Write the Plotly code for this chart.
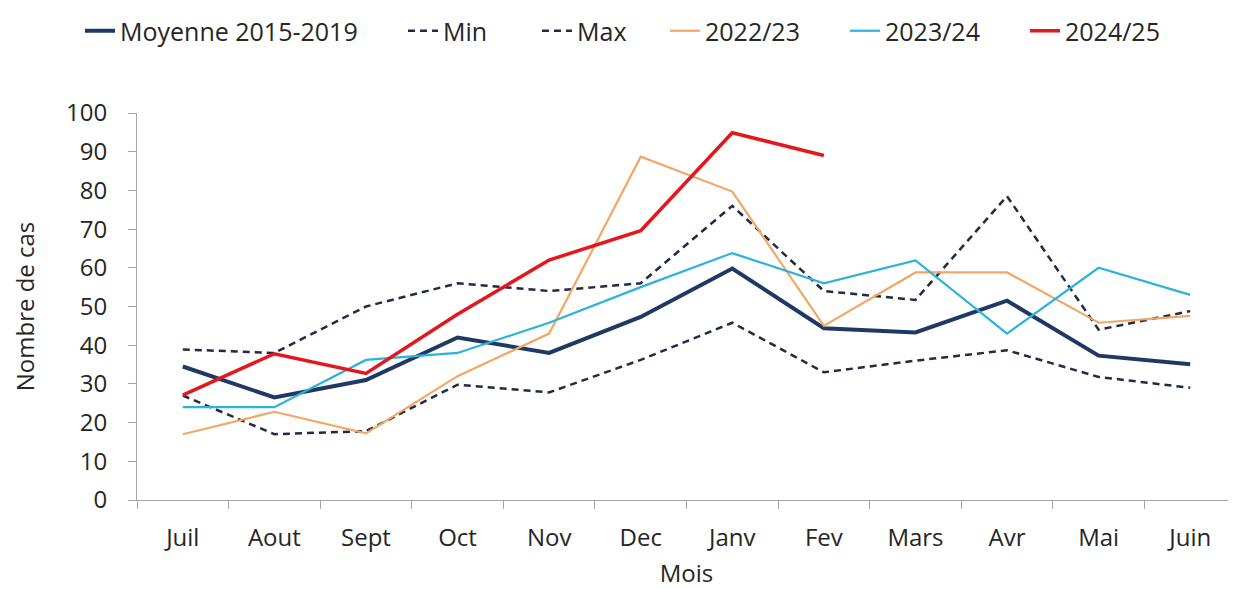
import plotly.graph_objects as go

mois = ["Juil", "Aout", "Sept", "Oct", "Nov", "Dec", "Janv", "Fev", "Mars", "Avr", "Mai", "Juin"]
moyenne = [34.5, 26.5, 31, 42, 38, 47.3, 59.8, 44.4, 43.3, 51.5, 37.3, 35.1]
min_vals = [27, 17, 17.8, 29.8, 27.8, 36.2, 45.8, 33, 36, 38.7, 31.8, 29]
max_vals = [38.9, 38, 50, 56, 54, 56, 76, 54, 51.7, 78.5, 44, 48.8]
s2022 = [17, 22.8, 17.2, 32, 43, 88.7, 79.7, 45, 58.8, 58.8, 45.8, 47.6]
s2023 = [24, 24, 36.2, 38, 45.8, 55, 63.8, 56, 61.9, 43, 60, 53]
s2024 = [27.1, 37.8, 32.7, 48, 62, 69.6, 94.9, 89]
mois2024 = mois[:len(s2024)]

FONT = "Open Sans"
navy = "#1F3864"
dashc = "#222A44"
W, H = 1228, 581  # page body has an 8px margin in the 1236x589 window

fig = go.Figure()
traces = [
    ("Moyenne 2015-2019", mois, moyenne, dict(color=navy, width=4)),
    ("Min", mois, min_vals, dict(color=dashc, width=2.5, dash="7px,5px")),
    ("Max", mois, max_vals, dict(color=dashc, width=2.5, dash="7px,5px")),
    ("2022/23", mois, s2022, dict(color="#F2A765", width=2.2)),
    ("2023/24", mois, s2023, dict(color="#2BB3DA", width=2.2)),
    ("2024/25", mois2024, s2024, dict(color="#E3171C", width=3.5)),
]
legend_px = [72, 395, 529, 657, 837, 1017]
legend_names = ["legend"] + [f"legend{i}" for i in range(2, 7)]

for (name, xs, ys, ln), lg in zip(traces, legend_names):
    fig.add_trace(go.Scatter(x=xs, y=ys, name=name, mode="lines", line=ln, legend=lg))

legend_layouts = {}
for lg, px in zip(legend_names, legend_px):
    legend_layouts[lg] = dict(orientation="h", xref="container", yref="container",
                              x=px / W, y=1, xanchor="left", yanchor="top",
                              font=dict(size=25, color="#262626", family=FONT),
                              bgcolor="rgba(0,0,0,0)", itemwidth=30)

fig.update_layout(
    width=W, height=H,
    margin=dict(l=129, r=0, t=105, b=89),
    paper_bgcolor="white", plot_bgcolor="white",
    font=dict(family=FONT, size=24, color="#262626"),
    showlegend=True,
    xaxis=dict(type="category", range=[-0.5, 11.5], showgrid=False,
               showline=True, linecolor="#A6A6A6", linewidth=1,
               ticks="outside", tickson="boundaries", ticklen=8, tickcolor="#A6A6A6",
               ticklabelstandoff=16,
               title=dict(text="Mois", font=dict(size=24), standoff=17),
               tickfont=dict(size=24)),
    yaxis=dict(range=[0, 100], dtick=10, showgrid=False, zeroline=False,
               showline=True, linecolor="#A6A6A6", linewidth=1,
               ticks="outside", ticklen=8, tickcolor="#A6A6A6",
               ticklabelstandoff=16,
               title=dict(text="Nombre de cas", font=dict(size=24), standoff=25),
               tickfont=dict(size=24)),
    **legend_layouts,
)

fig.write_html("out.html")
